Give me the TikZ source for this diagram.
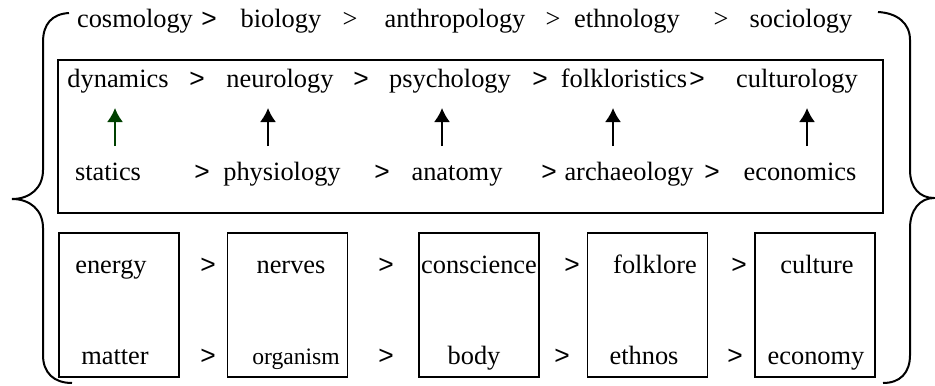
\documentclass[tikz,border=0pt]{standalone}
\usepackage{fontspec}
\setmainfont{Liberation Serif}
\newfontfamily\arialfont{Liberation Sans}
\usetikzlibrary{arrows.meta,calc}
\definecolor{darkgreen}{RGB}{0,64,0}
\tikzset{>={Latex[length=7pt,width=8pt]}}

\begin{document}
\begin{tikzpicture}[x=0.5pt,y=-0.5pt,
  word/.style={anchor=base,inner sep=0pt,font=\fontsize{13.2}{16}\selectfont},
  small/.style={word,font=\fontsize{11.8}{14}\selectfont},
  gt/.style={word,font=\fontsize{13.2}{16}\selectfont\arialfont},
  cell/.style={draw,line width=0.9pt,minimum width=60pt,minimum height=72pt,inner sep=0pt},
  up/.style={->,line width=0.9pt}]
\useasboundingbox (0,0) rectangle (935,385);

% outer braces
\draw[line width=1pt] (69,13) .. controls (52,14) and (43,24) .. (43,42) -- (43,170)
  .. controls (43,188) and (30,199) .. (12,199)
  .. controls (30,199) and (43,210) .. (43,228) -- (43,355)
  .. controls (43,373) and (54,383) .. (72,383);
\draw[line width=1pt] (878,12) .. controls (897,13) and (910,23) .. (910,40) -- (910,170)
  .. controls (910,188) and (920,198) .. (934,198)
  .. controls (920,198) and (910,210) .. (910,228) -- (910,355)
  .. controls (910,373) and (900,383) .. (883,383);

% top row
\node[word] (cosmology) at (135,28) {cosmology};
\node[word] (biology) at (281,28) {biology};
\node[word] (anthropology) at (455,28) {anthropology};
\node[word] (ethnology) at (627,28) {ethnology};
\node[word] (sociology) at (801,28) {sociology};
\node[gt] (t1) at (209,28) {>};
\foreach \n/\x in {2/350,3/553,4/721}
  \node[word] (t\n) at (\x,28) {>};

% sciences
\node[draw,line width=0.9pt,minimum width=412.5pt,minimum height=76.5pt,inner sep=0pt] (frame) at (470.5,136.5) {};
\node[word] (dynamics) at (118,88) {dynamics};
\node[word] (neurology) at (280,88) {neurology};
\node[word] (psychology) at (450,88) {psychology};
\node[word] (folkloristics) at (624,88) {folkloristics};
\node[word] (culturology) at (797,88) {culturology};
\node[word] (statics) at (108,180) {statics};
\node[word] (physiology) at (282,180) {physiology};
\node[word] (anatomy) at (457,180) {anatomy};
\node[word] (archaeology) at (629,180) {archaeology};
\node[word] (economics) at (800,180) {economics};
\foreach \n/\x in {1/197,2/361,3/540,4/697}
  \node[gt] (u\n) at (\x,88) {>};
\foreach \n/\x in {1/202,2/382,3/549,4/712}
  \node[gt] (l\n) at (\x,180) {>};
\foreach \lo/\hi/\dx/\c in {statics/dynamics/-3/darkgreen,physiology/neurology/-12/black,
    anatomy/psychology/-8/black,archaeology/folkloristics/-11/black,economics/culturology/10/black}
  \draw[up,\c] ($(\lo.base -| \hi.base)+(\dx,-34)$) -- ($(\hi.base)+(\dx,20)$);

% objects
\foreach \n/\x in {1/119,2/287.5,3/479,4/647.5,5/815}
  \node[cell] (box\n) at (\x,305) {};
\node[word] (energy) at (111,273) {energy};
\node[word] (nerves) at (291,273) {nerves};
\node[word] (conscience) at (479,273) {conscience};
\node[word] (folklore) at (655,273) {folklore};
\node[word] (culture) at (817,273) {culture};
\node[word] (matter) at (115,364) {matter};
\node[small] (organism) at (296,364) {organism};
\node[word] (body) at (474,364) {body};
\node[word] (ethnos) at (644,364) {ethnos};
\node[word] (economy) at (816,364) {economy};
\foreach \n/\x in {1/208,2/386,3/572,4/739}
  \node[gt] (p\n) at (\x,273) {>};
\foreach \n/\x in {1/208,2/386,3/562,4/735}
  \node[gt] (q\n) at (\x,364) {>};
\end{tikzpicture}
\end{document}
